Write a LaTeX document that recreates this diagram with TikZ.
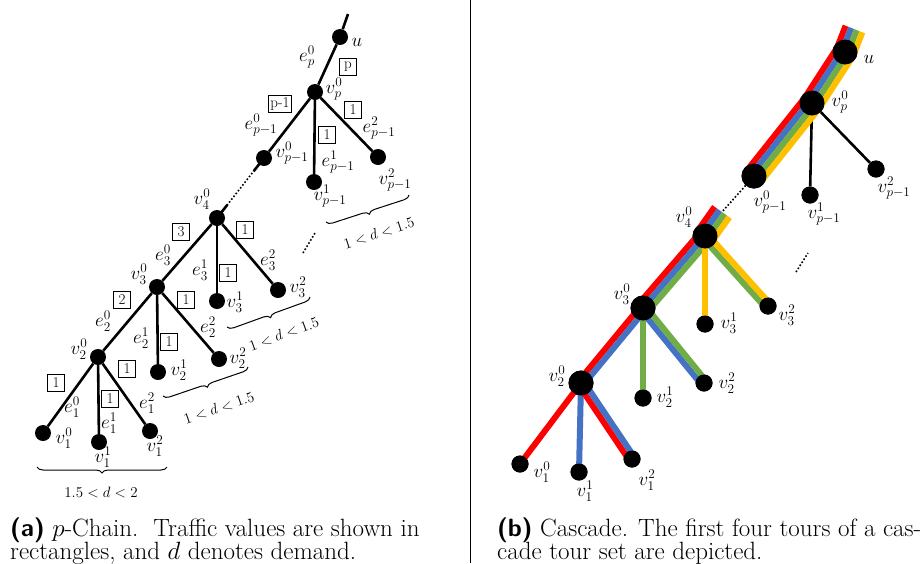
\RequirePackage{fix-cm}
\documentclass[tikz,border=0pt]{standalone}
\usepackage{amsmath}
\usetikzlibrary{calc,decorations.pathreplacing}
\definecolor{tourred}{HTML}{FF0000}
\definecolor{tourblue}{HTML}{4472C4}
\definecolor{tourgreen}{HTML}{70AD47}
\definecolor{touryellow}{HTML}{FFC000}
% one coloured tour strip along an edge, shifted sideways by #3 pt
\newcommand{\tourband}[4]{\draw[band, #4] ($(#1)!#3pt!90:(#2)$) -- ($(#2)!#3pt!-90:(#1)$);}

\begin{document}
\begin{tikzpicture}[x=1pt, y=-1pt,
        dot/.style={circle, fill=black, inner sep=0pt, minimum size=16pt},
        bigdot/.style={dot, minimum size=25pt},
        leaf/.style={dot, minimum size=17pt},
        link/.style={line width=2.6pt},
        band/.style={line width=6pt},
        lbl/.style={inner sep=0pt, font=\fontsize{19}{21}\selectfont},
        traffic/.style={draw, line width=0.9pt, inner sep=2pt, minimum width=17pt, minimum height=17pt, font=\fontsize{15}{17}\selectfont},
        demand/.style={inner sep=0pt, font=\fontsize{15}{17}\selectfont},
        brace/.style={decorate, decoration={brace, amplitude=6pt, mirror}, line width=1pt},
        captext/.style={anchor=base west, inner sep=0pt, font=\fontsize{25}{27}\selectfont}
    ]
    \useasboundingbox (0,0) rectangle (921,563);

    % (a) p-chain
    \coordinate (utop) at (348,14);
    \node[dot] (u) at (340,37) {};
    \node[dot] (vp) at (315,92) {};
    \node[dot] (vq0) at (264,158) {};
    \node[dot] (vq1) at (314,182) {};
    \node[dot] (vq2) at (378,157) {};
    \node[dot] (v40) at (217,218) {};
    \node[dot] (v30) at (157,287) {};
    \node[dot] (v31) at (217,301) {};
    \node[dot] (v32) at (278,290) {};
    \node[dot] (v20) at (98,357) {};
    \node[dot] (v21) at (158,372) {};
    \node[dot] (v22) at (219,359) {};
    \node[dot] (v10) at (43,433) {};
    \node[dot] (v11) at (99,442) {};
    \node[dot] (v12) at (150,431) {};

    \draw[link] (utop) -- (u);
    \draw[link] (u) -- (vp);
    \draw[link] (vp) -- (vq0);
    \draw[link] (vp) -- (vq1);
    \draw[link] (vp) -- (vq2);
    \draw[link] (v40) -- (v30);
    \draw[link] (v40) -- (v31);
    \draw[link] (v40) -- (v32);
    \draw[link] (v30) -- (v20);
    \draw[link] (v30) -- (v21);
    \draw[link] (v30) -- (v22);
    \draw[link] (v20) -- (v10);
    \draw[link] (v20) -- (v11);
    \draw[link] (v20) -- (v12);
    \draw[link] (vq0.center) -- ($(vq0)!.22!(v40)$);
    \draw[link] (v40.center) -- ($(v40)!.22!(vq0)$);
    \draw[line width=1.6pt, dotted] (vq0) -- (v40);
    \coordinate (dotsa) at (303,253);
    \coordinate (dotsb) at (315,233);
    \draw[line width=1.6pt, dotted] (dotsa) -- (dotsb);

    \node[lbl] (lu) at (357,42) {$u$};
    \node[lbl] (lvp) at (334,89) {$v_p^0$};
    \node[lbl] (lvq0) at (292,153) {$v_{p-1}^0$};
    \node[lbl] (lvq1) at (330,196) {$v_{p-1}^1$};
    \node[lbl] (lvq2) at (395,180) {$v_{p-1}^2$};
    \node[lbl] (lv40) at (202,199) {$v_4^0$};
    \node[lbl] (lv30) at (139,274) {$v_3^0$};
    \node[lbl] (lv31) at (235,302) {$v_3^1$};
    \node[lbl] (lv32) at (298,287) {$v_3^2$};
    \node[lbl] (lv20) at (79,349) {$v_2^0$};
    \node[lbl] (lv21) at (179,370) {$v_2^1$};
    \node[lbl] (lv22) at (238,358) {$v_2^2$};
    \node[lbl] (lv10) at (64,438) {$v_1^0$};
    \node[lbl] (lv11) at (103,457) {$v_1^1$};
    \node[lbl] (lv12) at (155,446) {$v_1^2$};

    \node[lbl] (lep) at (307,57) {$e_p^0$};
    \node[lbl] (leq0) at (261,125) {$e_{p-1}^0$};
    \node[lbl] (leq1) at (338,162) {$e_{p-1}^1$};
    \node[lbl] (leq2) at (379,128) {$e_{p-1}^2$};
    \node[lbl] (le30) at (163,255) {$e_3^0$};
    \node[lbl] (le31) at (200,270) {$e_3^1$};
    \node[lbl] (le32) at (268,260) {$e_3^2$};
    \node[lbl] (le20) at (103,321) {$e_2^0$};
    \node[lbl] (le21) at (141,338) {$e_2^1$};
    \node[lbl] (le22) at (208,327) {$e_2^2$};
    \node[lbl] (le10) at (72,407) {$e_1^0$};
    \node[lbl] (le11) at (109,423) {$e_1^1$};
    \node[lbl] (le12) at (147,403) {$e_1^2$};

    \node[traffic] (tp) at (348,67) {p};
    \node[traffic] (tq0) at (280,104) {p-1};
    \node[traffic] (tq1) at (327,135) {1};
    \node[traffic] (tq2) at (353,110) {1};
    \node[traffic] (t30) at (181,232) {3};
    \node[traffic] (t31) at (228,273) {1};
    \node[traffic] (t32) at (245,230) {1};
    \node[traffic] (t20) at (122,300) {2};
    \node[traffic] (t21) at (169,342) {1};
    \node[traffic] (t22) at (186,300) {1};
    \node[traffic] (t10) at (56,383) {1};
    \node[traffic] (t11) at (110,399) {1};
    \node[traffic] (t12) at (127,369) {1};

    \coordinate (br1a) at (37,467);
    \coordinate (br1b) at (167,467);
    \coordinate (br2a) at (163,396);
    \coordinate (br2b) at (248,367);
    \coordinate (br3a) at (227,327);
    \coordinate (br3b) at (310,297);
    \coordinate (brqa) at (326,222);
    \coordinate (brqb) at (409,195);
    \draw[brace] (br1a) -- (br1b);
    \draw[brace] (br2a) -- (br2b);
    \draw[brace] (br3a) -- (br3b);
    \draw[brace] (brqa) -- (brqb);
    \node[demand] (d1) at (101,492) {$1.5<d<2$};
    \node[demand, rotate=19] (d2) at (219,408) {$1<d<1.5$};
    \node[demand, rotate=20] (d3) at (284,334) {$1<d<1.5$};
    \node[demand, rotate=18] (dq) at (379,233) {$1<d<1.5$};

    \coordinate (septop) at (470,0);
    \coordinate (sepbot) at (470,563);
    \draw[line width=0.8pt] (septop) -- (sepbot);

    % (b) cascade
    \coordinate (rtop) at (854,29);
    \coordinate (r4top) at (722,212);
    \node[bigdot] (ru) at (845,52) {};
    \node[bigdot] (rvp) at (812,103) {};
    \node[bigdot] (rq0) at (754,176) {};
    \node[leaf] (rq1) at (810,195) {};
    \node[leaf] (rq2) at (876,169) {};
    \node[bigdot] (r40) at (705,236) {};
    \node[bigdot] (r30) at (643,308) {};
    \node[leaf] (r31) at (705,324) {};
    \node[leaf] (r32) at (768,306) {};
    \node[bigdot] (r20) at (581,383) {};
    \node[leaf] (r21) at (643,398) {};
    \node[leaf] (r22) at (704,383) {};
    \node[leaf] (r10) at (520,464) {};
    \node[leaf] (r11) at (579,472) {};
    \node[leaf] (r12) at (632,459) {};

    \draw[line width=1.6pt, dotted] (rq0) -- (r4top);
    \coordinate (rdotsa) at (796,272);
    \coordinate (rdotsb) at (808,253);
    \draw[line width=1.6pt, dotted] (rdotsa) -- (rdotsb);
    \draw[link] (rvp) -- (rq1);
    \draw[link] (rvp) -- (rq2);

    \foreach \c/\o in {tourred/-9, tourblue/-3, tourgreen/3, touryellow/9} {
        \tourband{rtop}{ru}{\o}{\c}
        \tourband{ru}{rvp}{\o}{\c}
        \tourband{rvp}{rq0}{\o}{\c}
        \tourband{r4top}{r40}{\o}{\c}
    }
    \foreach \c/\o in {tourred/-6, tourblue/0, tourgreen/6}
        \tourband{r40}{r30}{\o}{\c};
    \tourband{r40}{r31}{0}{touryellow}
    \tourband{r40}{r32}{-3}{tourgreen}
    \tourband{r40}{r32}{3}{touryellow}
    \tourband{r30}{r20}{-3}{tourred}
    \tourband{r30}{r20}{3}{tourblue}
    \tourband{r30}{r21}{0}{tourgreen}
    \tourband{r30}{r22}{-3}{tourblue}
    \tourband{r30}{r22}{3}{tourgreen}
    \tourband{r20}{r10}{0}{tourred}
    \tourband{r20}{r11}{0}{tourblue}
    \tourband{r20}{r12}{-3}{tourred}
    \tourband{r20}{r12}{3}{tourblue}

    % nodes again on top of the strips
    \foreach \n in {ru, rvp, rq0, r40, r30, r20}
        \fill (\n) circle (12.5pt);
    \foreach \n in {rq1, rq2, r31, r32, r21, r22, r10, r11, r12}
        \fill (\n) circle (8.5pt);

    \node[lbl] (lru) at (869,59) {$u$};
    \node[lbl] (lrvp) at (840,102) {$v_p^0$};
    \node[lbl] (lrq0) at (770,202) {$v_{p-1}^0$};
    \node[lbl] (lrq1) at (824,214) {$v_{p-1}^1$};
    \node[lbl] (lrq2) at (894,188) {$v_{p-1}^2$};
    \node[lbl] (lr40) at (684,217) {$v_4^0$};
    \node[lbl] (lr30) at (622,294) {$v_3^0$};
    \node[lbl] (lr31) at (729,323) {$v_3^1$};
    \node[lbl] (lr32) at (787,315) {$v_3^2$};
    \node[lbl] (lr20) at (557,376) {$v_2^0$};
    \node[lbl] (lr21) at (665,397) {$v_2^1$};
    \node[lbl] (lr22) at (727,383) {$v_2^2$};
    \node[lbl] (lr10) at (542,472) {$v_1^0$};
    \node[lbl] (lr11) at (585,491) {$v_1^1$};
    \node[lbl] (lr12) at (647,480) {$v_1^2$};

    % captions
    \node[captext] (capa1) at (10,536) {\textsf{\textbf{(a)}} $p$-Chain.\ \ Traffic values are shown in};
    \node[captext] (capa2) at (10,559) {rectangles, and $d$ denotes demand.};
    \node[captext] (capb1) at (497,536) {\textsf{\textbf{(b)}} Cascade. The first four tours of a cas-};
    \node[captext] (capb2) at (497,559) {cade tour set are depicted.};
\end{tikzpicture}
\end{document}
